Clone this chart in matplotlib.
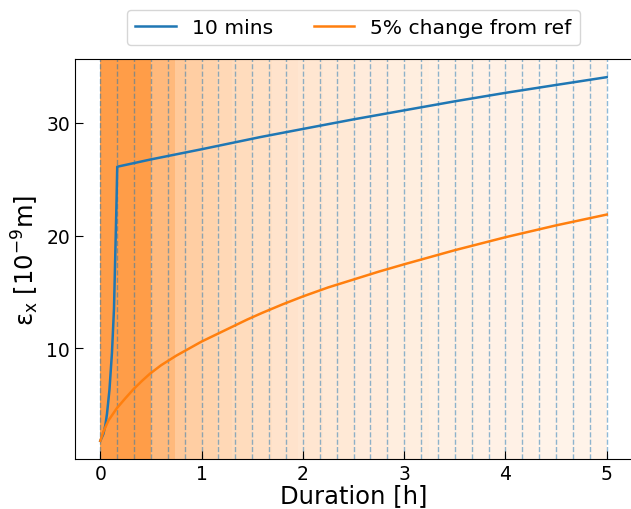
import numpy as np
import matplotlib
matplotlib.use("Agg")
import matplotlib.pyplot as plt

# emittance growth
t_10min = [0, 0.03, 0.05, 0.066, 0.09, 0.115, 0.135, 0.148, 0.16, 0.167,
           0.5, 1, 1.58, 2, 2.5, 3, 3.5, 4, 4.5, 5]
eps_10min = [1.8, 2.4, 3.2, 4.2, 6.3, 9.6, 13.5, 18.4, 23.0, 26.1,
             26.75, 27.65, 28.73, 29.45, 30.3, 31.1, 31.9, 32.65, 33.35, 34.04]

t_ref = [0, 0.03, 0.08, 0.164, 0.25, 0.33, 0.41, 0.49, 0.6, 0.75, 0.9, 1.0, 1.15, 1.3, 1.45,
         1.6, 1.8, 2.0, 2.25, 2.5, 2.75, 3.0, 3.5, 4.0, 4.5, 5.0]
eps_ref = [1.8, 2.6, 3.6, 4.7, 5.6, 6.4, 7.1, 7.75, 8.5, 9.35, 10.1, 10.6, 11.25, 11.9, 12.55,
           13.15, 13.9, 14.6, 15.4, 16.1, 16.8, 17.45, 18.7, 19.85, 20.9, 21.86]

# update intervals of the "5% change" scheme (shaded bands)
band_edges = [0, 0.5, 0.74, 0.85, 1.0, 1.15, 1.3, 1.5, 1.7, 1.95, 2.2, 2.5, 2.85, 3.25, 3.7, 4.3, 5.0]
band_alpha = [0.76, 0.54, 0.42, 0.38, 0.34, 0.3, 0.27, 0.24, 0.21, 0.19, 0.17, 0.15, 0.13, 0.115, 0.1, 0.09]

# 10 minute update times
step_h = 1 / 6
n_steps = 30

fig = plt.figure(figsize=(6.31, 5.10), dpi=100)
ax = fig.add_axes([75 / 631, 50 / 510, 557 / 631, 400 / 510])

for i in range(len(band_alpha)):
    ax.axvspan(band_edges[i], band_edges[i + 1], color="C1", alpha=band_alpha[i], lw=0, zorder=0)

for k in range(n_steps + 1):
    ax.axvline(k * step_h, color="C0", ls="--", lw=1, alpha=0.5, zorder=1)

ax.plot(t_10min, eps_10min, color="C0", lw=1.8, label="10 mins", zorder=3)
ax.plot(t_ref, eps_ref, color="C1", lw=1.8, label="5% change from ref", zorder=3)

ax.spines["right"].set_visible(False)
ax.tick_params(direction="in", labelsize=13.5, length=6)
ax.set_yticks([10, 20, 30])
ax.set_xticks([0, 1, 2, 3, 4, 5])
ax.set_xlabel("Duration [h]", fontsize=17.5, labelpad=0)
ax.set_ylabel(r"ε$_{\rm x}$ [10$^{-9}$m]", fontsize=17.5)

ax.legend(loc="lower center", bbox_to_anchor=(0.5, 1.01), ncol=2, fontsize=14.6,
          columnspacing=2.0, handlelength=2.0)

fig.savefig("out.png", dpi=100)
